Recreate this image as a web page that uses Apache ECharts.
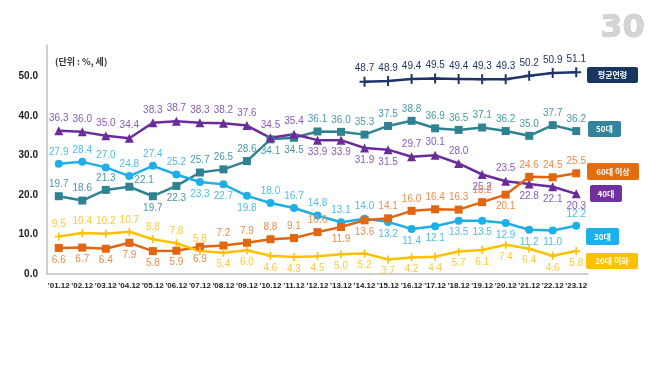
<!DOCTYPE html>
<html><head><meta charset="utf-8">
<script src="https://cdn.jsdelivr.net/npm/echarts@6/dist/echarts.min.js"></script>
<style>html,body{margin:0;padding:0;background:#fff}#c{width:658px;height:370px}</style>
</head><body><div id="c"></div>
<script>
const categories = ["'01.12","'02.12","'03.12","'04.12","'05.12","'06.12","'07.12","'08.12","'09.12","'10.12","'11.12","'12.12","'13.12","'14.12","'15.12","'16.12","'17.12","'18.12","'19.12","'20.12","'21.12","'22.12","'23.12"];
const avgAge = [null,null,null,null,null,null,null,null,null,null,null,null,null,48.7,48.9,49.4,49.5,49.4,49.3,49.3,50.2,50.9,51.1];
const age50s = [19.7,18.6,21.3,22.1,19.7,22.3,25.7,26.5,28.6,34.1,34.5,36.1,36.0,35.3,37.5,38.8,36.9,36.5,37.1,36.2,35.0,37.7,36.2];
const age60plus = [6.6,6.7,6.4,7.9,5.8,5.9,6.9,7.2,7.9,8.8,9.1,10.6,11.9,13.6,14.1,16.0,16.4,16.3,18.2,20.1,24.6,24.5,25.5];
const age40s = [36.3,36.0,35.0,34.4,38.3,38.7,38.3,38.2,37.6,34.5,35.4,33.9,33.9,31.9,31.5,29.7,30.1,28.0,25.2,23.5,22.8,22.1,20.3];
const age30s = [27.9,28.4,27.0,24.8,27.4,25.2,23.3,22.7,19.8,18.0,16.7,14.8,13.1,14.0,13.2,11.4,12.1,13.5,13.5,12.9,11.2,11.0,12.2];
const age20under = [9.5,10.4,10.2,10.7,8.8,7.8,5.8,5.4,6.0,4.6,4.3,4.5,5.0,5.2,3.7,4.2,4.4,5.7,6.1,7.4,6.4,4.6,5.8];
const yTicks = [0,10,20,30,40,50];

// label placement (style): T = top, B = bottom, R = top-right
const pos40 = "TTTTTTTTTTTBBBBTTTBTBBB";
const pos50 = "TTTRBBTTTBBTTTTTTTTTTTT";
const pos30 = "TTTTTTBBBTTTTTBBBBBBBBT";
const pos60 = "BBBBBBBTTTTTBBTTTTTBTTT";
const pos20 = "TTTTTTTBBBBBBBBBBBBBBBB";

const FONT = "'Liberation Sans','Noto Sans CJK KR',sans-serif";
const plus = 'path://M4,0 L6,0 L6,4 L10,4 L10,6 L6,6 L6,10 L4,10 L4,6 L0,6 L0,4 L4,4 Z';

function mk(values, posStr) {
  return values.map((v, i) => {
    if (v === null) return null;
    const c = posStr ? posStr[i] : 'T';
    let label;
    if (c === 'B') label = { position: 'bottom' };
    else if (c === 'R') label = { position: 'right', offset: [-2, -6] };
    else label = { position: 'top' };
    return { value: v, label };
  });
}
function series(name, values, posStr, color, labelColor, symbol, size) {
  return {
    name, type: 'line', data: mk(values, posStr),
    symbol, symbolSize: size, lineStyle: { color, width: 2.5 },
    itemStyle: { color }, z: 3,
    label: { show: true, color: labelColor, fontSize: 10, fontFamily: FONT, distance: 3,
      formatter: p => p.value.toFixed(1) },
    animation: false
  };
}

const chart = echarts.init(document.getElementById('c'));
const boxes = [
  { x: 587, y: 67, w: 51, h: 16, c: '#17375e', t: '평균연령' },
  { x: 588, y: 121, w: 33, h: 16, c: '#31849b', t: '50대' },
  { x: 587, y: 163, w: 52, h: 17, c: '#e46c0a', t: '60대 이상' },
  { x: 590, y: 185, w: 32, h: 17, c: '#7030a0', t: '40대' },
  { x: 586, y: 228, w: 33, h: 17, c: '#1cb0ec', t: '30대' },
  { x: 586, y: 253, w: 52, h: 16, c: '#ffc000', t: '20대 이하' }
];
const graphic = [
  { type: 'text', left: 55, top: 57, style: { text: '(단위 : %, 세)', fill: '#333', font: "bold 9px 'Noto Sans CJK KR'" } },
  { type: 'text', left: 600, top: 12, style: { text: '30', fill: '#d4d4d4', font: "bold 32px 'DejaVu Sans'", stroke: '#b0b0b0', lineWidth: 0.6 } }
];
boxes.forEach(b => {
  graphic.push({ type: 'rect', shape: { x: b.x, y: b.y, width: b.w, height: b.h, r: 2 }, style: { fill: b.c } });
  graphic.push({ type: 'text', x: b.x + b.w / 2, y: b.y + b.h / 2, style: { text: b.t, fill: '#fff', font: "bold 8px 'Noto Sans CJK KR'", align: 'center', verticalAlign: 'middle' } });
});

chart.setOption({
  animation: false,
  grid: { left: 47, right: 70, top: 45, bottom: 96 },
  xAxis: {
    type: 'category', data: categories, boundaryGap: true,
    axisLine: { lineStyle: { color: '#bfbfbf', width: 1.5 } },
    axisTick: { show: false },
    axisLabel: { color: '#222', fontSize: 8, fontWeight: 'bold', fontFamily: FONT, margin: 8, interval: 0 }
  },
  yAxis: {
    type: 'value', min: 0, max: 58, interval: 10,
    axisLine: { show: true, lineStyle: { color: '#bfbfbf', width: 1.5 } },
    axisTick: { show: false },
    splitLine: { show: false },
    axisLabel: { color: '#222', fontSize: 10, fontWeight: 'bold', fontFamily: FONT, margin: 9, showMaxLabel: false,
      formatter: v => yTicks.includes(v) ? v.toFixed(1) : '' }
  },
  graphic,
  series: [
    series('평균연령', avgAge, null, '#1f3468', '#1f3468', plus, 10),
    series('50대', age50s, pos50, '#2f8292', '#4a98a8', 'rect', 8),
    series('40대', age40s, pos40, '#6a2c9c', '#8a5bb8', 'triangle', 9),
    series('30대', age30s, pos30, '#1eaee8', '#4dbdea', 'circle', 8),
    series('60대 이상', age60plus, pos60, '#e2650f', '#ec8b4e', 'rect', 8),
    series('20대 이하', age20under, pos20, '#ffc000', '#ffc83a', plus, 8)
  ]
});
</script></body></html>
